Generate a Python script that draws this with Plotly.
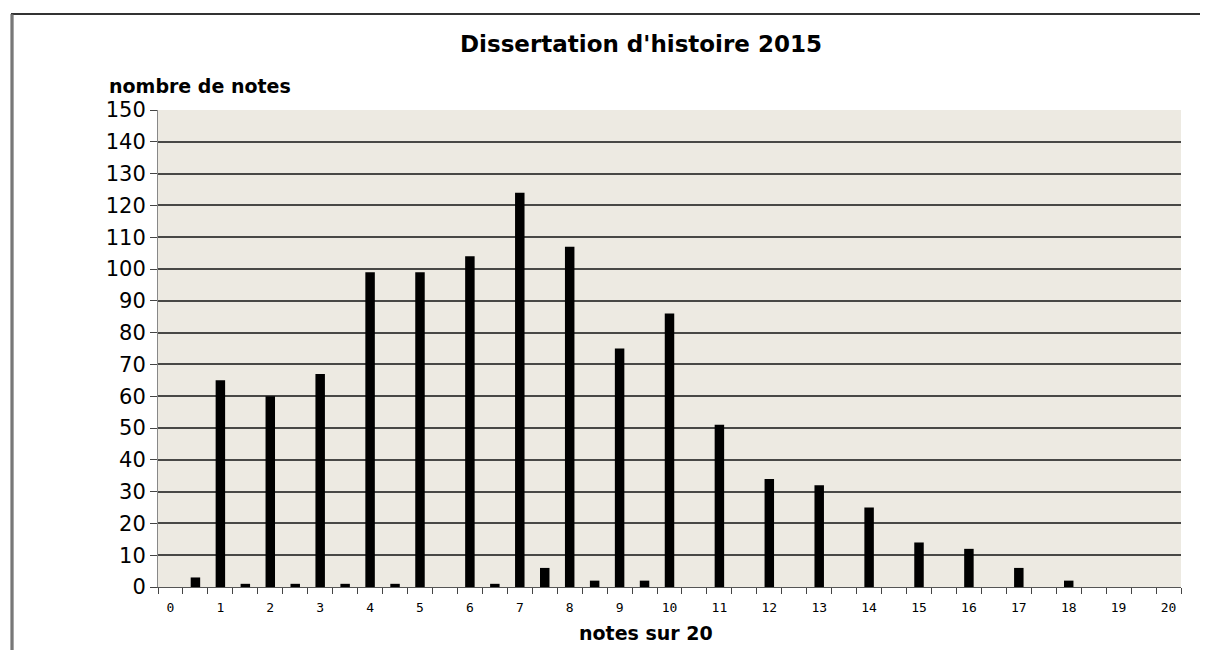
import plotly.graph_objects as go

notes = [i * 0.5 for i in range(41)]
counts = [0, 3, 65, 1, 60, 1, 67, 1, 99, 1, 99, 0, 104, 1, 124, 6, 107, 2, 75, 2,
          86, 0, 51, 0, 34, 0, 32, 0, 25, 0, 14, 0, 12, 0, 6, 0, 2, 0, 0, 0, 0]
x_ticks = list(range(0, 21))
y_ticks = list(range(0, 151, 10))

fig = go.Figure()
fig.add_trace(go.Bar(x=notes, y=counts, marker=dict(color="black", line=dict(width=0)),
                     width=0.19))

fig.update_layout(
    width=1200, height=642,
    margin=dict(l=150, r=27, t=102, b=63),
    paper_bgcolor="white",
    plot_bgcolor="#EDEAE2",
    showlegend=False,
    title=dict(text="<b>Dissertation d'histoire 2015</b>", x=0.5275, xanchor="center",
               y=1 - 36 / 642, yanchor="middle",
               font=dict(family="DejaVu Sans", size=23, color="black")),
    font=dict(family="DejaVu Sans", color="black"),
)

fig.update_xaxes(
    range=[-0.25, 20.25],
    tickmode="array", tickvals=x_ticks, ticktext=[str(v) for v in x_ticks],
    ticks="", showgrid=False, zeroline=False,
    ticklabelstandoff=8,
    tickfont=dict(family="DejaVu Sans Mono", size=13, color="black"),
    minor=dict(ticks="outside", ticklen=6, tickwidth=1, tickcolor="#444444",
               tick0=-0.25, dtick=0.5, showgrid=False),
    showline=True, linecolor="#555555", linewidth=1,
)

fig.update_yaxes(
    range=[0, 150],
    tickmode="array", tickvals=y_ticks,
    ticks="outside", ticklen=7, tickcolor="#444444", tickwidth=1,
    showgrid=True, gridcolor="#484846", gridwidth=1.6,
    zeroline=False,
    showline=True, linecolor="#888888", linewidth=1,
    tickfont=dict(family="DejaVu Sans", size=21, color="black"),
)

fig.add_annotation(text="<b>nombre de notes</b>", xref="paper", yref="paper",
                   x=-0.0499, y=1.0, xanchor="left", yanchor="middle", yshift=24,
                   showarrow=False, font=dict(family="DejaVu Sans", size=19, color="black"))
fig.add_annotation(text="<b>notes sur 20</b>", xref="paper", yref="paper",
                   x=0.477, y=0.0, xanchor="center", yanchor="middle", yshift=-46,
                   showarrow=False, font=dict(family="DejaVu Sans", size=19, color="black"))

# outer frame (top and left line)
fig.add_shape(type="line", xref="paper", yref="paper", x0=-0.1437, x1=1.1, y0=1.2013, y1=1.2013,
              line=dict(color="#333333", width=2))
fig.add_shape(type="line", xref="paper", yref="paper", x0=-0.1427, x1=-0.1427, y0=1.2013, y1=-0.2,
              line=dict(color="#555555", width=3))
fig.add_shape(type="line", xref="paper", yref="paper", x0=-0.1427, x1=-0.1427, y0=1.2, y1=-0.2,
              line=dict(color="#9a9a9a", width=1))

fig.write_html("out.html")
